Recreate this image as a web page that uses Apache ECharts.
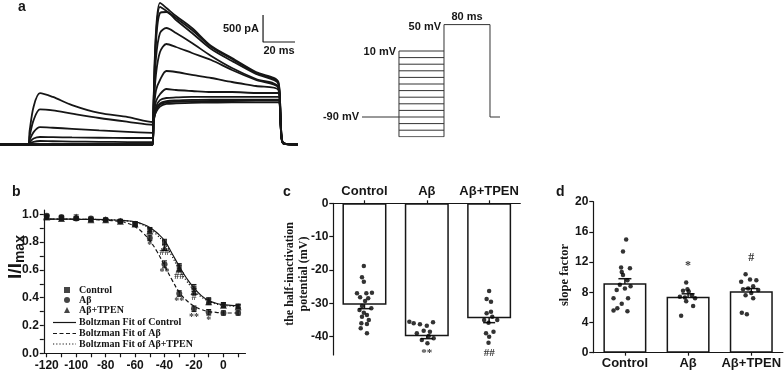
<!DOCTYPE html>
<html>
<head>
<meta charset="utf-8">
<script src="https://cdn.jsdelivr.net/npm/echarts@6/dist/echarts.min.js"></script>
<style>
  html, body { margin: 0; padding: 0; background: #fff; }
  #main { width: 784px; height: 372px; }
</style>
</head>
<body>
<div id="main"></div>
<script>
var ink = '#161616';
var sans = 'Liberation Sans';
var serif = 'Liberation Serif';

// ---- panel a: current traces (time in ms, current in pA) ----
var tA = [0, 17.5, 18.5, 21, 25, 33, 45, 62, 80, 95.5, 96, 97.5, 100, 104, 110, 120, 132, 145, 160, 174, 175.5, 177, 186];
var traces = [
    [0, 0, 0, 0, 0, 0, 0, 0, 0, 0, 800, 2100, 2618, 2525, 2377, 2155, 1822, 1600, 1341, 1156, 420, 30, 0],
    [0, 0, 0, 0, 0, 0, 0, 0, 0, 0, 780, 2000, 2544, 2470, 2340, 2118, 1804, 1582, 1323, 1138, 410, 30, 0],
    [0, 0, 0, 0, 0, 0, 0, 0, 0, 0, 750, 1900, 2433, 2451, 2303, 2063, 1767, 1545, 1304, 1119, 400, 30, 0],
    [0, 0, 0, 0, 0, 0, 0, 0, 0, 0, 700, 1600, 2063, 2155, 2063, 1878, 1637, 1415, 1212, 1064, 380, 25, 0],
    [0, 0, 0, 0, 0, 0, 0, 0, 0, 0, 650, 1300, 1711, 1859, 1804, 1693, 1563, 1378, 1193, 1045, 370, 25, 0],
    [0, 0, 0, 0, 0, 0, 0, 0, 0, 0, 550, 1000, 1193, 1360, 1341, 1286, 1230, 1156, 1082, 1008, 360, 25, 0],
    [0, 0, 20, 50, 65, 60, 55, 50, 45, 45, 500, 800, 930, 1027, 1008, 990, 971, 971, 953, 953, 340, 25, 0],
    [0, 0, 40, 110, 139, 135, 130, 125, 120, 120, 450, 700, 820, 860, 870, 880, 880, 880, 880, 880, 320, 20, 0],
    [0, 0, 80, 230, 320, 310, 290, 260, 235, 215, 420, 650, 760, 800, 815, 825, 830, 830, 830, 830, 300, 20, 0],
    [0, 0, 150, 450, 650, 630, 570, 490, 420, 365, 430, 620, 740, 780, 790, 800, 805, 805, 810, 810, 290, 20, 0],
    [0, 0, 250, 700, 950, 880, 730, 583, 508, 416, 480, 600, 700, 750, 760, 770, 775, 780, 780, 780, 280, 20, 0]
];
var scaleBar = [[184.4, 1896], [164.4, 1896], [164.4, 2396]];

// ---- panel a: voltage protocol (ms, mV) ----
var preLevels = [-120, -110, -100, -90, -80, -70, -60, -50, -40, -30, -20, -10, 0, 10];
var holdV = -90, testV = 50;
var preStart = 64.3, testStart = 142.6, testEnd = 222.6, protoEnd = 240;

// ---- panel b: steady-state inactivation ----
var vB = [-120, -110, -100, -90, -80, -70, -60, -50, -40, -30, -20, -10, 0, 10];
var ctrlB = [0.98, 0.97, 0.97, 0.96, 0.96, 0.95, 0.93, 0.89, 0.80, 0.62, 0.47, 0.38, 0.35, 0.34];
var abB = [0.99, 0.98, 0.97, 0.97, 0.96, 0.95, 0.93, 0.83, 0.64, 0.43, 0.32, 0.295, 0.29, 0.29];
var tpenB = [0.98, 0.97, 0.98, 0.96, 0.96, 0.95, 0.93, 0.88, 0.76, 0.61, 0.445, 0.37, 0.345, 0.335];
var ctrlErr = [0.01, 0.01, 0.01, 0.01, 0.01, 0.01, 0.015, 0.015, 0.02, 0.025, 0.025, 0.02, 0.015, 0.012];
var abErr = [0.01, 0.01, 0.01, 0.01, 0.01, 0.01, 0.015, 0.02, 0.025, 0.02, 0.02, 0.02, 0.015, 0.015];
var tpenErr = [0.01, 0.01, 0.015, 0.01, 0.01, 0.01, 0.015, 0.015, 0.02, 0.025, 0.02, 0.02, 0.015, 0.012];
var fitV = [-122, -110, -100, -90, -80, -70, -65, -60, -55, -50, -45, -40, -35, -30, -25, -20, -15, -10, -5, 0, 5, 10];
var fitCtrl = [0.965, 0.965, 0.964, 0.963, 0.961, 0.957, 0.953, 0.945, 0.93, 0.905, 0.865, 0.81, 0.72, 0.625, 0.54, 0.47, 0.415, 0.38, 0.36, 0.35, 0.345, 0.342];
var fitAb = [0.965, 0.965, 0.964, 0.962, 0.958, 0.948, 0.935, 0.91, 0.87, 0.81, 0.73, 0.63, 0.53, 0.44, 0.38, 0.34, 0.315, 0.30, 0.295, 0.29, 0.29, 0.29];
var fitTpen = [0.965, 0.965, 0.964, 0.963, 0.961, 0.957, 0.952, 0.943, 0.925, 0.895, 0.85, 0.79, 0.70, 0.60, 0.52, 0.455, 0.405, 0.375, 0.355, 0.345, 0.34, 0.338];
var fitNames = ['Boltzman Fit of Control', 'Boltzman Fit of Aβ', 'Boltzman Fit of Aβ+TPEN'];
var marksB = [[-50, 0.775, '*'], [-40, 0.585, '**'], [-30, 0.375, '**'], [-20, 0.26, '**'], [-10, 0.24, '*'],
              [-40, 0.725, '##'], [-30, 0.555, '##'], [-20, 0.405, '#']];

// ---- panels c and d: bars with individual cells ----
var groups = ['Control', 'Aβ', 'Aβ+TPEN'];
var halfMean = [-30.4, -39.9, -34.5];
var halfSem = [1.2, 0.7, 1.3];
var halfDots = [
    [-18.8, -22.2, -23.5, -27, -26.8, -27, -28.2, -28.5, -29.3, -30.8, -31.5, -32, -32.8, -33.5, -34, -35, -36, -36.2, -37.5, -39],
    [-35.5, -36, -36.3, -36.7, -35.7, -38.2, -38.5, -39, -39.8, -40.5, -41, -42],
    [-26.3, -28.7, -29.5, -32.5, -33, -34, -35, -35, -35.8, -38.5, -39, -40, -41.8]
];
var halfJitter = [
    [-0.01, -0.04, -0.01, -0.12, 0.12, 0.03, -0.07, 0.06, 0.01, -0.04, 0.11, -0.08, -0.01, 0.04, -0.04, 0.07, -0.05, 0.04, -0.06, 0.04],
    [-0.28, -0.21, -0.11, 0, 0.1, -0.05, 0.05, -0.16, 0.03, 0.11, -0.08, 0.01],
    [0, -0.04, 0.03, 0.03, -0.04, 0.05, -0.08, 0.13, -0.01, 0.07, -0.05, 0, -0.01]
];
var marksC = [[1, -45, '**'], [2, -45, '##']];

var slopeMean = [9.2, 7.4, 8.15];
var slopeSem = [0.6, 0.4, 0.35];
var slopeDots = [
    [15.0, 13.4, 11.3, 11.2, 10.7, 10.3, 9.6, 9.0, 8.8, 8.5, 8.3, 7.2, 7.2, 6.5, 5.9, 5.5, 5.6],
    [9.3, 8.4, 8.2, 8.1, 7.4, 7.6, 7.3, 7.2, 6.8, 6.2, 4.9],
    [10.4, 9.7, 9.6, 9.4, 8.8, 8.5, 8.4, 8.3, 7.9, 7.6, 7.2, 5.3, 5.1]
];
var slopeJitter = [
    [0.02, -0.03, -0.06, 0.08, -0.05, -0.03, 0.04, -0.08, 0.09, 0, -0.13, -0.18, 0.05, -0.05, -0.12, 0.04, -0.18],
    [-0.03, -0.01, -0.08, 0.01, -0.13, 0.06, -0.05, 0.11, -0.03, 0.08, -0.11],
    [-0.09, -0.02, 0.08, -0.16, 0.03, -0.05, -0.13, 0.11, 0, -0.09, 0.03, -0.15, -0.07]
];
var marksD = [[1, 11.5, '*'], [2, 12.5, '#']];

// ---------------------------------------------------------------
function zip(xs, ys) { return xs.map(function (x, i) { return [x, ys[i]]; }); }
function withErr(xs, ys, es) { return xs.map(function (x, i) { return [x, ys[i], es[i]]; }); }
function dots(vals, jit) {
    var out = [];
    vals.forEach(function (g, gi) {
        g.forEach(function (v, k) { out.push([gi + jit[gi][k], v]); });
    });
    return out;
}

function errorBars(capW, lw) {
    return function (params, api) {
        var x = api.value(0), y = api.value(1), e = api.value(2);
        var hi = api.coord([x, y + e]), lo = api.coord([x, y - e]);
        var st = { stroke: ink, lineWidth: lw };
        return {
            type: 'group',
            children: [
                { type: 'line', shape: { x1: hi[0], y1: hi[1], x2: lo[0], y2: lo[1] }, style: st },
                { type: 'line', shape: { x1: hi[0] - capW / 2, y1: hi[1], x2: hi[0] + capW / 2, y2: hi[1] }, style: st },
                { type: 'line', shape: { x1: lo[0] - capW / 2, y1: lo[1], x2: lo[0] + capW / 2, y2: lo[1] }, style: st }
            ]
        };
    };
}

function markSeries(xi, yi, data, size) {
    return {
        type: 'scatter', xAxisIndex: xi, yAxisIndex: yi, symbolSize: 0, silent: true,
        data: data,
        label: {
            show: true, position: 'inside', color: '#000',
            fontFamily: serif, fontWeight: 'bold', fontSize: size,
            formatter: function (p) { return p.data[2]; }
        }
    };
}

// protocol segments
var protoSegs = [[[0, holdV], [preStart, holdV]]];
preLevels.forEach(function (v) { protoSegs.push([[preStart, v], [testStart, v]]); });
protoSegs.push([[preStart, preLevels[0]], [preStart, preLevels[preLevels.length - 1]]]);
protoSegs.push([[testStart, preLevels[0]], [testStart, testV], [testEnd, testV], [testEnd, holdV], [protoEnd, holdV]]);

var axisLineSt = { show: true, onZero: false, lineStyle: { color: ink, width: 1.2 } };
var tickSt = { show: true, length: 4, lineStyle: { color: ink, width: 1.2 } };
var lblSt = { color: ink, fontFamily: sans, fontWeight: 'bold', fontSize: 12 };

var series = [];
traces.forEach(function (tr) {
    series.push({
        type: 'line', xAxisIndex: 0, yAxisIndex: 0, data: zip(tA, tr),
        symbol: 'none', smooth: 0.3, silent: true,
        lineStyle: { color: ink, width: 1.8 }
    });
});
series.push({
    type: 'line', xAxisIndex: 0, yAxisIndex: 0, data: scaleBar,
    symbol: 'none', silent: true, lineStyle: { color: ink, width: 1.2 }
});
series.push({
    type: 'lines', coordinateSystem: 'cartesian2d', xAxisIndex: 1, yAxisIndex: 1,
    polyline: true, silent: true,
    data: protoSegs.map(function (c) { return { coords: c }; }),
    lineStyle: { color: '#333', width: 1, opacity: 1 }
});

// panel b
[[fitNames[0], fitCtrl, 'solid'], [fitNames[1], fitAb, [4, 2.5]], [fitNames[2], fitTpen, [1.2, 2]]].forEach(function (f) {
    series.push({
        name: f[0], type: 'line', xAxisIndex: 2, yAxisIndex: 2, data: zip(fitV, f[1]),
        symbol: 'none', smooth: true, silent: true,
        lineStyle: { color: ink, width: 1.2, type: f[2] }
    });
});
[[ctrlB, ctrlErr], [abB, abErr], [tpenB, tpenErr]].forEach(function (s) {
    series.push({
        type: 'custom', xAxisIndex: 2, yAxisIndex: 2, data: withErr(vB, s[0], s[1]),
        encode: { x: 0, y: 1 }, renderItem: errorBars(5, 1), silent: true
    });
});
[['Control', ctrlB, 'rect', 5], ['Aβ', abB, 'circle', 6], ['Aβ+TPEN', tpenB, 'triangle', 7]].forEach(function (s) {
    series.push({
        name: s[0], type: 'scatter', xAxisIndex: 2, yAxisIndex: 2, data: zip(vB, s[1]),
        symbol: s[2], symbolSize: s[3], itemStyle: { color: ink }, silent: true
    });
});
series.push(markSeries(2, 2, marksB, 10));

// panel c
series.push({
    type: 'bar', xAxisIndex: 3, yAxisIndex: 3, data: halfMean, barWidth: 44, silent: true,
    itemStyle: { color: '#fff', borderColor: ink, borderWidth: 1.5 }
});
series.push({
    type: 'scatter', xAxisIndex: 4, yAxisIndex: 3, data: dots(halfDots, halfJitter),
    symbolSize: 4.5, itemStyle: { color: '#000' }, silent: true
});
series.push({
    type: 'custom', xAxisIndex: 4, yAxisIndex: 3,
    data: withErr([0, 1, 2], halfMean, halfSem),
    encode: { x: 0, y: 1 }, renderItem: errorBars(12, 1.5), silent: true
});
series.push(markSeries(4, 3, marksC, 11));

// panel d
series.push({
    type: 'bar', xAxisIndex: 5, yAxisIndex: 4, data: slopeMean, barWidth: 43, silent: true,
    itemStyle: { color: '#fff', borderColor: ink, borderWidth: 1.5 }
});
series.push({
    type: 'scatter', xAxisIndex: 6, yAxisIndex: 4, data: dots(slopeDots, slopeJitter),
    symbolSize: 4.5, itemStyle: { color: '#000' }, silent: true
});
series.push({
    type: 'custom', xAxisIndex: 6, yAxisIndex: 4,
    data: withErr([0, 1, 2], slopeMean, slopeSem),
    encode: { x: 0, y: 1 }, renderItem: errorBars(13, 1.5), silent: true
});
series.push(markSeries(6, 4, marksD, 12));

var legendText = { color: ink, fontFamily: serif, fontWeight: 'bold', fontSize: 10, lineHeight: 10 };

// legend rows for the fitted curves (line samples drawn as graphics)
var fitLegend = [];
[[null, 322.5], [[4, 2.5], 333.5], [[1.2, 2], 344]].forEach(function (r, i) {
    fitLegend.push({
        type: 'line', shape: { x1: 53, y1: r[1], x2: 76, y2: r[1] },
        style: { stroke: ink, lineWidth: 1.2, lineDash: r[0] }
    });
    fitLegend.push({
        type: 'text', x: 79, y: r[1],
        style: { text: fitNames[i], font: 'bold 10px ' + serif, fill: ink, verticalAlign: 'middle' }
    });
});

var option = {
    animation: false,
    backgroundColor: '#fff',
    grid: [
        { left: 0, top: 0, width: 297.6, height: 154.5 },
        { left: 362, top: 24.6, width: 138, height: 112.2 },
        { left: 43.8, top: 210.1, width: 201.7, height: 143.2 },
        { left: 333.3, top: 203.3, width: 187, height: 151.7 },
        { left: 593.3, top: 201.7, width: 190, height: 151 }
    ],
    xAxis: [
        { gridIndex: 0, type: 'value', min: 0, max: 186, show: false },
        { gridIndex: 1, type: 'value', min: 0, max: 240, show: false },
        {
            gridIndex: 2, type: 'value', min: -122, max: 15,
            axisLine: axisLineSt, axisTick: Object.assign({ customValues: [-120, -110, -100, -90, -80, -70, -60, -50, -40, -30, -20, -10, 0, 10] }, tickSt),
            axisLabel: Object.assign({ customValues: [-120, -100, -80, -60, -40, -20, 0], margin: 6 }, lblSt),
            splitLine: { show: false }
        },
        {
            gridIndex: 3, type: 'category', data: groups, position: 'top',
            axisLine: axisLineSt, axisTick: Object.assign({ alignWithLabel: true }, tickSt, { length: 3 }),
            axisLabel: Object.assign({}, lblSt, { fontSize: 13, margin: 5, interval: 0 })
        },
        { gridIndex: 3, type: 'value', min: -0.5, max: 2.5, show: false },
        {
            gridIndex: 4, type: 'category', data: groups,
            axisLine: axisLineSt, axisTick: Object.assign({ alignWithLabel: true }, tickSt, { length: 3 }),
            axisLabel: Object.assign({}, lblSt, { fontSize: 13, margin: 4, interval: 0 })
        },
        { gridIndex: 4, type: 'value', min: -0.5, max: 2.5, show: false }
    ],
    yAxis: [
        { gridIndex: 0, type: 'value', min: -185, max: 2673, show: false },
        { gridIndex: 1, type: 'value', min: -120, max: 50, show: false },
        {
            gridIndex: 2, type: 'value', min: 0, max: 1.03,
            axisLine: axisLineSt, axisTick: Object.assign({ customValues: [0, 0.1, 0.2, 0.3, 0.4, 0.5, 0.6, 0.7, 0.8, 0.9, 1.0] }, tickSt),
            axisLabel: Object.assign({ customValues: [0, 0.2, 0.4, 0.6, 0.8, 1.0], margin: 5, formatter: function (v) { return v.toFixed(1); } }, lblSt),
            splitLine: { show: false }
        },
        {
            gridIndex: 3, type: 'value', min: -45.5, max: 0,
            axisLine: axisLineSt, axisTick: Object.assign({ customValues: [0, -10, -20, -30, -40] }, tickSt),
            axisLabel: Object.assign({ customValues: [0, -10, -20, -30, -40], margin: 5 }, lblSt),
            splitLine: { show: false }
        },
        {
            gridIndex: 4, type: 'value', min: 0, max: 20, interval: 4,
            axisLine: axisLineSt, axisTick: tickSt,
            axisLabel: Object.assign({ margin: 5 }, lblSt),
            splitLine: { show: false }
        }
    ],
    legend: {
        data: ['Control', 'Aβ', 'Aβ+TPEN'], orient: 'vertical', left: 64, top: 285,
        padding: 0, itemGap: 0, itemWidth: 6, itemHeight: 6,
        textStyle: Object.assign({ padding: [0, 0, 0, 4] }, legendText), selectedMode: false
    },
    graphic: [
        { type: 'text', left: 18, top: 0, style: { text: 'a', font: 'bold 14px ' + sans, fill: ink } },
        { type: 'text', left: 12, top: 185, style: { text: 'b', font: 'bold 14px ' + sans, fill: ink } },
        { type: 'text', left: 283, top: 185, style: { text: 'c', font: 'bold 14px ' + sans, fill: ink } },
        { type: 'text', left: 556, top: 185, style: { text: 'd', font: 'bold 14px ' + sans, fill: ink } },
        { type: 'text', x: 259, y: 29, style: { text: '500 pA', font: 'bold 11px ' + sans, fill: ink, align: 'right', verticalAlign: 'middle' } },
        { type: 'text', x: 279, y: 51, style: { text: '20 ms', font: 'bold 11px ' + sans, fill: ink, align: 'center', verticalAlign: 'middle' } },
        { type: 'text', x: 467, y: 17, style: { text: '80 ms', font: 'bold 11px ' + sans, fill: ink, align: 'center', verticalAlign: 'middle' } },
        { type: 'text', x: 441, y: 27, style: { text: '50 mV', font: 'bold 11px ' + sans, fill: ink, align: 'right', verticalAlign: 'middle' } },
        { type: 'text', x: 396, y: 52, style: { text: '10 mV', font: 'bold 11px ' + sans, fill: ink, align: 'right', verticalAlign: 'middle' } },
        { type: 'text', x: 359, y: 117, style: { text: '-90 mV', font: 'bold 11px ' + sans, fill: ink, align: 'right', verticalAlign: 'middle' } },
        {
            type: 'text', x: 16, y: 257, rotation: Math.PI / 2,
            style: {
                text: '{a|I/I}{b|max}', align: 'center', verticalAlign: 'middle', fill: ink,
                rich: {
                    a: { fontFamily: sans, fontWeight: 'bold', fontSize: 19, lineHeight: 22, fill: ink },
                    b: { fontFamily: sans, fontWeight: 'bold', fontSize: 14, verticalAlign: 'bottom', padding: [6, 0, 0, 0], fill: ink }
                }
            }
        },
        {
            type: 'text', x: 297, y: 274, rotation: Math.PI / 2,
            style: { text: 'the half-inactivation\npotential (mV)', font: 'bold 12px ' + serif, lineHeight: 14, fill: ink, align: 'center', verticalAlign: 'middle' }
        },
        {
            type: 'text', x: 565, y: 275, rotation: Math.PI / 2,
            style: { text: 'slope factor', font: 'bold 12.5px ' + serif, fill: ink, align: 'center', verticalAlign: 'middle' }
        }
    ].concat(fitLegend),
    series: series
};

var chart = echarts.init(document.getElementById('main'), null, { renderer: 'canvas' });
chart.setOption(option);
</script>
</body>
</html>
